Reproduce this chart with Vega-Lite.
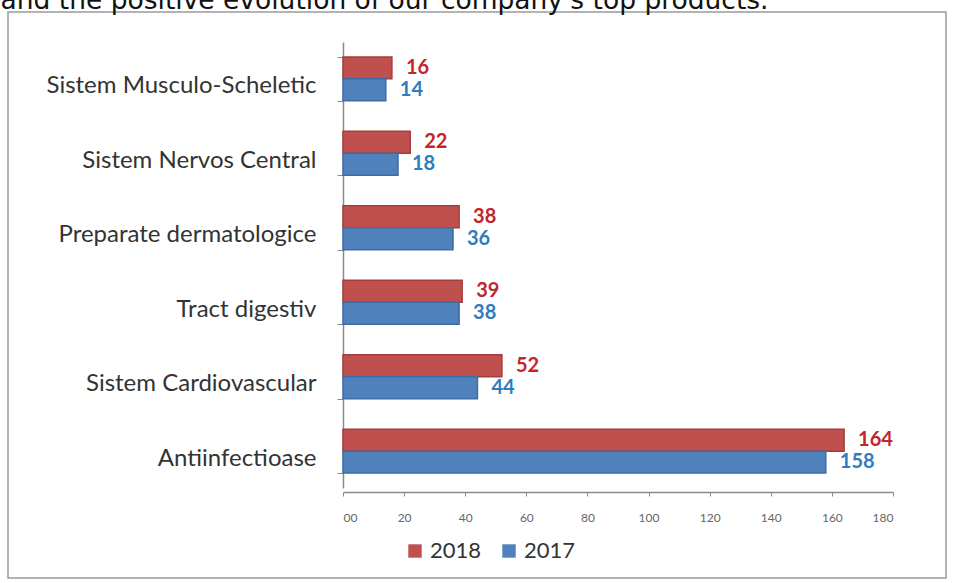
{
  "$schema": "https://vega.github.io/schema/vega-lite/v6.json",
  "autosize": {"type": "none"},
  "width": 938,
  "height": 566,
  "padding": {"left": 8, "top": 12, "right": 8, "bottom": 5},
  "background": "white",
  "config": {
    "view": {"stroke": "#9a9a9a", "strokeWidth": 1.5},
    "font": "Lato"
  },
  "data": {
    "values": [
      {"category": "Sistem Musculo-Scheletic", "year": "2018", "value": 16},
      {"category": "Sistem Musculo-Scheletic", "year": "2017", "value": 14},
      {"category": "Sistem Nervos Central", "year": "2018", "value": 22},
      {"category": "Sistem Nervos Central", "year": "2017", "value": 18},
      {"category": "Preparate dermatologice", "year": "2018", "value": 38},
      {"category": "Preparate dermatologice", "year": "2017", "value": 36},
      {"category": "Tract digestiv", "year": "2018", "value": 39},
      {"category": "Tract digestiv", "year": "2017", "value": 38},
      {"category": "Sistem Cardiovascular", "year": "2018", "value": 52},
      {"category": "Sistem Cardiovascular", "year": "2017", "value": 44},
      {"category": "Antiinfectioase", "year": "2018", "value": 164},
      {"category": "Antiinfectioase", "year": "2017", "value": 158}
    ]
  },
  "encoding": {
    "y": {
      "field": "category",
      "type": "nominal",
      "sort": ["Sistem Musculo-Scheletic", "Sistem Nervos Central", "Preparate dermatologice", "Tract digestiv", "Sistem Cardiovascular", "Antiinfectioase"],
      "scale": {"range": [30, 476], "paddingInner": 0.41, "paddingOuter": 0.2},
      "axis": {
        "title": "and the positive evolution of our company's top products.",
        "titleAngle": 0,
        "titleX": -343,
        "titleY": -4,
        "titleAlign": "left",
        "titleBaseline": "alphabetic",
        "titleFont": "DejaVu Sans",
        "titleFontSize": 26.5,
        "titleFontWeight": "normal",
        "titleColor": "#111111",
        "offset": -335,
        "labelFont": "Lato",
        "labelFontSize": 24,
        "labelColor": "#333333",
        "labelPadding": 21,
        "labelOffset": 7,
        "labelLimit": 400,
        "tickBand": "extent",
        "tickSize": 6,
        "tickColor": "#8a8a8a",
        "domainColor": "#8a8a8a",
        "domainWidth": 1.5,
        "grid": false
      }
    },
    "yOffset": {
      "field": "year",
      "type": "nominal",
      "sort": ["2018", "2017"],
      "scale": {"paddingInner": 0, "paddingOuter": 0}
    },
    "x": {
      "field": "value",
      "type": "quantitative",
      "scale": {"domain": [0, 180], "range": [335, 885], "nice": false, "zero": true},
      "axis": {
        "title": null,
        "values": [0, 20, 40, 60, 80, 100, 120, 140, 160, 180],
        "labelExpr": "datum.value == 0 ? '00' : datum.label",
        "offset": -86,
        "labelFontSize": 12,
        "labelColor": "#666666",
        "labelPadding": 16,
        "tickSize": 4,
        "tickColor": "#8a8a8a",
        "domainColor": "#8a8a8a",
        "domainWidth": 1.5,
        "grid": false
      }
    }
  },
  "layer": [
    {
      "mark": {"type": "bar", "strokeWidth": 1.5},
      "encoding": {
        "color": {
          "field": "year",
          "type": "nominal",
          "scale": {"domain": ["2018", "2017"], "range": ["#c0504d", "#4f81bd"]},
          "legend": {
            "title": null,
            "orient": "none",
            "legendX": 396,
            "legendY": 528,
            "direction": "horizontal",
            "symbolType": "square",
            "symbolSize": 180,
            "symbolStrokeWidth": 0,
            "labelFont": "Lato",
            "labelFontSize": 22,
            "labelColor": "#333333",
            "columnPadding": 16,
            "labelOffset": 4
          }
        },
        "stroke": {
          "field": "year",
          "type": "nominal",
          "scale": {"domain": ["2018", "2017"], "range": ["#a33e3b", "#3f6ca3"]},
          "legend": null
        }
      }
    },
    {
      "mark": {"type": "text", "align": "left", "baseline": "middle", "dx": 14, "fontWeight": "bold", "fontSize": 20, "font": "Lato"},
      "encoding": {
        "text": {"field": "value", "type": "quantitative"},
        "color": {
          "field": "year",
          "type": "nominal",
          "scale": {"domain": ["2018", "2017"], "range": ["#c0262b", "#2e7dc0"]},
          "legend": null
        }
      }
    }
  ],
  "resolve": {"scale": {"color": "independent"}}
}
